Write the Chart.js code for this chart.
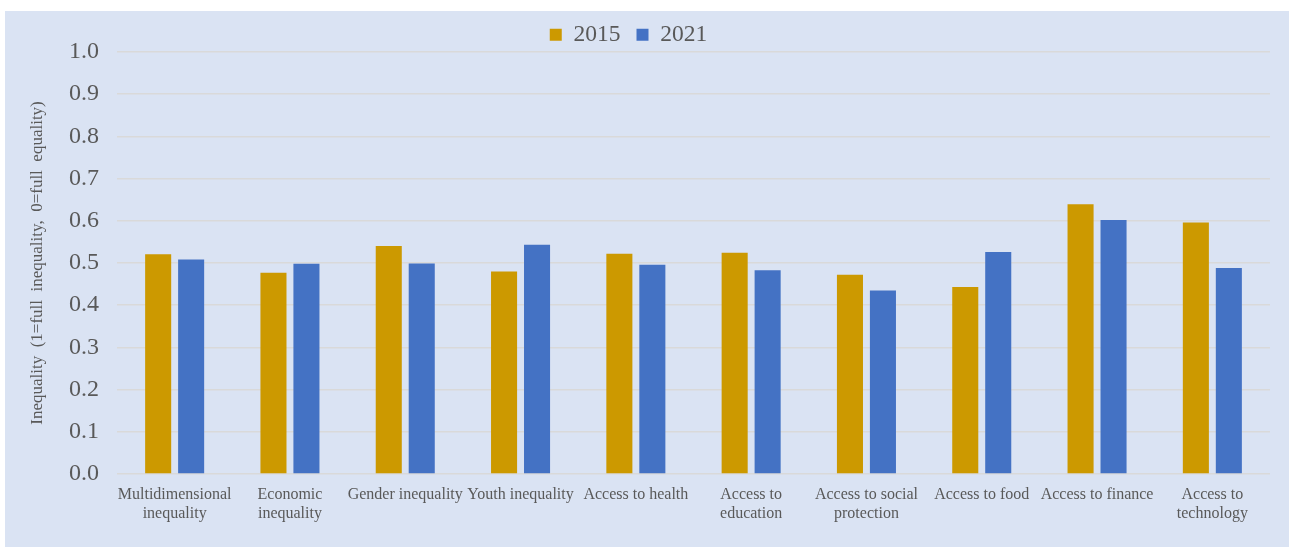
<html>
<head>
	<meta charset="utf-8">
	<script src="https://cdn.jsdelivr.net/npm/chart.js@4/dist/chart.umd.min.js"></script>
	<title></title>
	<style>
		body { margin: 0; background: #ffffff; }
	</style>
</head>
<body>
	<canvas id="bar-chart" width="1289" height="547"></canvas>
	<script>
	var categories = [
		['Multidimensional', 'inequality'],
		['Economic', 'inequality'],
		'Gender inequality',
		'Youth inequality',
		'Access to health',
		['Access to', 'education'],
		['Access to social', 'protection'],
		'Access to food',
		'Access to finance',
		['Access to', 'technology']
	];
	var values2015 = [0.521, 0.477, 0.540, 0.480, 0.522, 0.524, 0.472, 0.443, 0.639, 0.596];
	var values2021 = [0.508, 0.498, 0.499, 0.543, 0.496, 0.483, 0.435, 0.526, 0.602, 0.488];
	var yTicks = [0, 0.1, 0.2, 0.3, 0.4, 0.5, 0.6, 0.7, 0.8, 0.9, 1.0];

	var serif = '"Liberation Serif", "Times New Roman", serif';
	var textGrey = '#595959';

	// light blue panel behind the chart, white strip on top and left
	var panelBg = {
		id: 'panelBg',
		beforeDraw: function(chart) {
			var c = chart.ctx;
			c.save();
			c.fillStyle = '#DAE3F3';
			c.fillRect(5, 11, chart.width - 5, chart.height - 11);
			c.restore();
		}
	};

	// keep the legend box short (wide item spacing), and nudge it left of centre
	var legendTweak = {
		id: 'legendTweak',
		beforeLayout: function(chart) {
			var lg = chart.legend;
			if (lg && !lg._patched) {
				var fit = lg.fit;
				lg.fit = function() {
					fit.call(this);
					this.height = 40;
				};
				lg._patched = true;
			}
		},
		afterLayout: function(chart) {
			chart.legend.left -= 20;
			chart.legend.right -= 20;
			chart.legend.top -= 5;
			chart.legend.bottom -= 5;
		}
	};

	var ctx = document.getElementById('bar-chart').getContext('2d');
	var chart = new Chart(ctx, {
		type: 'bar',
		data: {
			labels: categories,
			datasets: [{
				label: '2015',
				data: values2015,
				backgroundColor: '#CC9900'
			}, {
				label: '2021',
				data: values2021,
				backgroundColor: '#4472C4'
			}]
		},
		options: {
			responsive: false,
			animation: false,
			categoryPercentage: 0.572,
			barPercentage: 0.79,
			layout: {
				padding: { top: 12, left: 27, right: 19, bottom: 0 }
			},
			plugins: {
				legend: {
					position: 'top',
					labels: {
						boxWidth: 12,
						boxHeight: 12,
						padding: 16,
						color: textGrey,
						font: { family: serif, size: 23.5 }
					}
				},
				tooltip: { enabled: false }
			},
			scales: {
				x: {
					grid: { display: false, drawTicks: false },
					border: { display: false },
					ticks: {
						color: textGrey,
						font: { family: serif, size: 16, lineHeight: 1.15 },
						maxRotation: 0,
						autoSkip: false,
						padding: 12
					},
					afterFit: function(scale) { scale.height = 73; }
				},
				y: {
					min: 0,
					max: 1,
					afterBuildTicks: function(scale) {
						scale.ticks = yTicks.map(function(v) { return { value: v }; });
					},
					grid: {
						color: '#D9D9D9',
						lineWidth: 1.5,
						drawTicks: false
					},
					border: { display: false },
					ticks: {
						color: textGrey,
						font: { family: serif, size: 24 },
						padding: 18,
						callback: function(v) { return v.toFixed(1); }
					},
					title: {
						display: true,
						text: 'Inequality  (1=full  inequality,  0=full  equality)',
						color: textGrey,
						font: { family: serif, size: 17 },
						padding: 0
					},
					afterFit: function(scale) { scale.width = 90; }
				}
			}
		},
		plugins: [panelBg, legendTweak]
	});
	</script>
</body>
</html>
